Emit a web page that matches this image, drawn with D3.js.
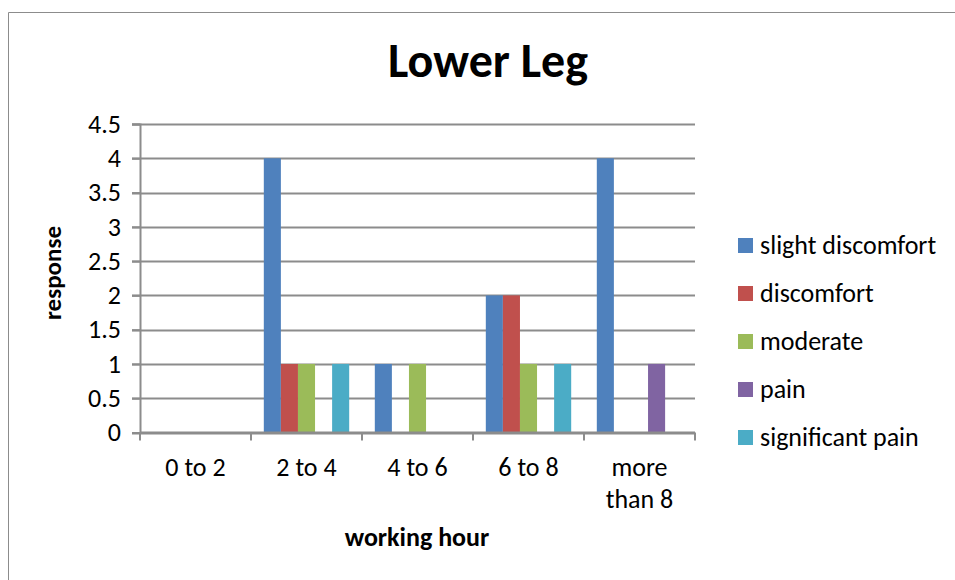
<!DOCTYPE html>
<html>
<head>
<meta charset="utf-8">
<script src="https://cdn.jsdelivr.net/npm/d3@7"></script>
<style>
  html, body { margin: 0; padding: 0; background: #fff; }
  svg { display: block; font-family: Carlito, Lato, "Open Sans", sans-serif; }
</style>
</head>
<body>
<svg id="chart" width="955" height="580"></svg>
<script>
// Responses by working hour for the lower leg
const categories = ["0 to 2", "2 to 4", "4 to 6", "6 to 8", "more than 8"];
const seriesNames = ["slight discomfort", "discomfort", "moderate", "pain", "significant pain"];
const slightDiscomfort = [0, 4, 1, 2, 4];
const discomfort       = [0, 1, 0, 2, 0];
const moderate         = [0, 1, 1, 1, 0];
const pain             = [0, 0, 0, 0, 1];
const significantPain  = [0, 1, 0, 1, 0];
const yTicks = [0, 0.5, 1, 1.5, 2, 2.5, 3, 3.5, 4, 4.5];
const colors = ["#4F81BD", "#C0504D", "#9BBB59", "#8064A2", "#4BACC6"];

const seriesValues = [slightDiscomfort, discomfort, moderate, pain, significantPain];

const svg = d3.select("#chart");

// chart area border (runs off the right and bottom edges)
svg.append("path")
  .attr("d", "M8.5,580 L8.5,12.5 L955,12.5")
  .attr("fill", "none")
  .attr("stroke", "#8c8c8c")
  .attr("stroke-width", 1);

const plot = { left: 140, right: 695, top: 124, bottom: 432.5 };

const x0 = d3.scaleBand()
  .domain(categories)
  .range([plot.left, plot.right])
  .paddingInner(0)
  .paddingOuter(0);

// gap width of 150% split evenly on both sides of each cluster
const x1 = d3.scaleBand()
  .domain(seriesNames)
  .range([0, x0.bandwidth()])
  .paddingInner(0)
  .paddingOuter(0.75);

const y = d3.scaleLinear()
  .domain([0, 4.5])
  .range([plot.bottom, plot.top]);

const grey = "#8c8c8c";

// horizontal gridlines
svg.append("g")
  .selectAll("line")
  .data(yTicks)
  .join("line")
  .attr("x1", plot.left - 8)
  .attr("x2", plot.right)
  .attr("y1", d => Math.round(y(d)) + 0.5)
  .attr("y2", d => Math.round(y(d)) + 0.5)
  .attr("stroke", grey)
  .attr("stroke-width", 2);

// bars
const groups = svg.append("g")
  .selectAll("g")
  .data(categories)
  .join("g")
  .attr("transform", d => `translate(${x0(d)},0)`);

groups.selectAll("rect")
  .data((c, ci) => seriesNames.map((s, si) => ({ s, si, v: seriesValues[si][ci] })))
  .join("rect")
  .attr("x", d => x1(d.s))
  .attr("width", x1.bandwidth())
  .attr("y", d => y(d.v))
  .attr("height", d => y(0) - y(d.v))
  .attr("fill", d => colors[d.si]);

// y axis
const yAxis = svg.append("g")
  .attr("transform", `translate(${plot.left},0)`)
  .call(d3.axisLeft(y).tickValues(yTicks).tickSize(8).tickPadding(11)
    .tickFormat(d => d3.format("")(d)));
yAxis.select(".domain").attr("stroke", grey).attr("stroke-width", 2);
yAxis.selectAll(".tick line").attr("stroke", grey).attr("stroke-width", 2);
yAxis.selectAll(".tick text")
  .attr("font-size", 26)
  .attr("fill", "#000")
  .style("font-family", "Carlito, Lato, sans-serif");

// x axis: baseline with tick marks at category boundaries
const xAxisG = svg.append("g");
xAxisG.append("line")
  .attr("x1", plot.left).attr("x2", plot.right)
  .attr("y1", y(0)).attr("y2", y(0))
  .attr("stroke", grey).attr("stroke-width", 2);
const boundaries = categories.map(c => x0(c)).concat([x0.range()[1]]);
xAxisG.selectAll("line.tk")
  .data(boundaries)
  .join("line")
  .attr("class", "tk")
  .attr("x1", d => d).attr("x2", d => d)
  .attr("y1", y(0)).attr("y2", y(0) + 8)
  .attr("stroke", grey).attr("stroke-width", 2);

// category labels (the last one wraps onto two lines)
const catLabels = svg.append("g");
categories.forEach(c => {
  const lines = c === "more than 8" ? ["more", "than 8"] : [c];
  const t = catLabels.append("text")
    .attr("x", x0(c) + x0.bandwidth() / 2)
    .attr("y", 476)
    .attr("text-anchor", "middle")
    .attr("font-size", 26)
    .attr("fill", "#000");
  lines.forEach((l, i) => {
    t.append("tspan")
      .attr("x", x0(c) + x0.bandwidth() / 2)
      .attr("dy", i === 0 ? 0 : 32)
      .text(l);
  });
});

// title
svg.append("text")
  .attr("x", 488)
  .attr("y", 77)
  .attr("text-anchor", "middle")
  .attr("font-size", 48)
  .attr("font-weight", "bold")
  .text("Lower Leg");

// axis titles
svg.append("text")
  .attr("transform", "translate(61,273) rotate(-90)")
  .attr("text-anchor", "middle")
  .attr("font-size", 25)
  .attr("font-weight", "bold")
  .text("response");

svg.append("text")
  .attr("x", 417)
  .attr("y", 546)
  .attr("text-anchor", "middle")
  .attr("font-size", 26)
  .attr("font-weight", "bold")
  .text("working hour");

// legend
const legend = svg.append("g");
seriesNames.forEach((s, i) => {
  const cy = 245 + i * 48;
  legend.append("rect")
    .attr("x", 738).attr("y", cy - 7)
    .attr("width", 15).attr("height", 15)
    .attr("fill", colors[i]);
  legend.append("text")
    .attr("x", 760).attr("y", cy + 9)
    .attr("font-size", 26)
    .attr("fill", "#000")
    .text(s);
});
</script>
</body>
</html>
